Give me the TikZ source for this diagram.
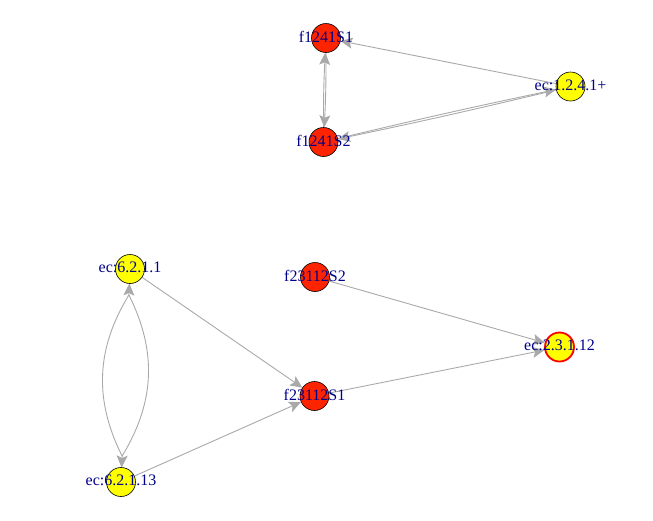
\documentclass[tikz,border=0pt]{standalone}
\usepackage{fontspec}
\setmainfont{Liberation Serif}
\usetikzlibrary{arrows.meta,calc,backgrounds}
\definecolor{edgegray}{RGB}{169,169,169}
\definecolor{vred}{RGB}{255,36,0}
\definecolor{vyel}{RGB}{255,255,0}
\definecolor{labblue}{RGB}{0,0,139}
\begin{document}
\begin{tikzpicture}[x=1pt,y=-1pt,
  vert/.style={circle,draw=black,line width=0.6pt,minimum size=29pt,inner sep=0pt},
  rv/.style={vert,fill=vred},
  yv/.style={vert,fill=vyel},
  lab/.style={text=labblue,font=\fontsize{16}{17}\selectfont,inner sep=0pt,yshift=1.5pt},
  edge/.style={draw=edgegray,line width=0.9pt},
  arr/.style={edge,-{Stealth[length=12pt,width=11pt,inset=2.5pt]}}]
\useasboundingbox (0,0) rectangle (653,520);
% vertices
\node[rv] (a) at (326,38) {};
\node[rv] (b) at (323.5,142) {};
\node[yv] (c) at (570.5,86.5) {};
\node[yv] (d) at (130,269) {};
\node[rv] (e) at (315,277) {};
\node[rv] (f) at (314.5,396) {};
\node[yv,draw=red,line width=1.8pt] (g) at (559.5,347) {};
\node[yv] (h) at (121,482) {};
% labels
\node[lab] (la) at (a) {f1241S1};
\node[lab] (lb) at (b) {f1241S2};
\node[lab] (lc) at (c) {ec:1.2.4.1+};
\node[lab] (ld) at (d) {ec:6.2.1.1};
\node[lab] (le) at (e) {f23112S2};
\node[lab] (lf) at (f) {f23112S1};
\node[lab] (lg) at (g) {ec:2.3.1.12};
\node[lab] (lh) at (h) {ec:6.2.1.13};
% edges
\begin{scope}[on background layer]
\draw[arr] (c) -- (a);
\draw[arr] (a) to[bend left=1.5] (b);
\draw[arr] (b) to[bend left=1.5] (a);
\draw[arr] (b) to[bend left=0.8] (c);
\draw[arr] (c) to[bend left=0.8] (b);
\draw[arr] (d) -- (f);
\draw[arr] (h) -- (f);
\draw[arr] (e) -- (g);
\draw[arr] (f) -- (g);
\coordinate (dt) at ($(d)!14.5pt!(h)$);
\coordinate (db) at ($(d)!26pt!(h)$);
\coordinate (ht) at ($(h)!14.5pt!(d)$);
\coordinate (hb) at ($(h)!26pt!(d)$);
\draw[edge] (db) to[bend left=29] (hb);
\draw[edge] (db) to[bend right=29] (hb);
\draw[arr] (db) -- (dt);
\draw[arr] (hb) -- (ht);
\end{scope}
\end{tikzpicture}
\end{document}
